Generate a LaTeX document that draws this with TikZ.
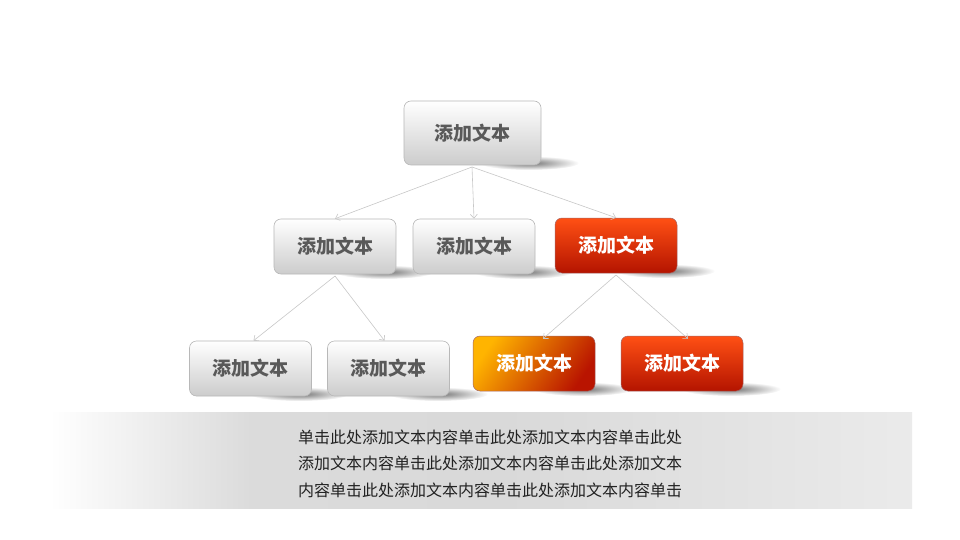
\documentclass[tikz,border=0pt]{standalone}
\usepackage{fontspec}
\setmainfont{Noto Sans CJK SC}
\newfontfamily\cjk{Noto Sans CJK SC}
\usetikzlibrary{arrows.meta,fadings,shadings}
\tikzfading[name=fuzzyedge, inner color=transparent!0, outer color=transparent!100]
\definecolor{boxtxt}{HTML}{595959}
\definecolor{linec}{HTML}{C8C8C8}
\definecolor{bodytxt}{HTML}{222222}
\begin{document}
\begin{tikzpicture}[x=1pt,y=-1pt,
  boxbase/.style={rounded corners=7pt, minimum width=122pt, minimum height=55pt, inner sep=0pt,
     font=\fontsize{19}{23}\selectfont\bfseries},
  graybox/.style={boxbase, draw=black!28, line width=0.6pt, top color=white, bottom color=black!20, text=boxtxt},
  redbox/.style={boxbase, draw=red!40!black!60, line width=0.5pt, top color={rgb,255:red,255;green,80;blue,20}, bottom color={rgb,255:red,180;green,20;blue,0}, text=white},
  orangebox/.style={boxbase, draw=red!40!black!60, line width=0.5pt, shading=axis, left color={rgb,255:red,255;green,180;blue,0}, right color={rgb,255:red,185;green,20;blue,0}, shading angle=55, text=white},
  conn/.style={draw=linec, line width=0.6pt, -{Straight Barb[length=4pt,width=7pt]}},
  bodyline/.style={font=\fontsize{16}{18}\selectfont, text=bodytxt, inner sep=0pt}
]
\useasboundingbox (0,0) rectangle (960,540);
\fill[white] (0,0) rectangle (960,540);
% bottom band
\shade[left color=white, right color=black!14] (50,412) rectangle (250,508);
\shade[left color=black!14, right color=black!15] (249.5,412) rectangle (500,508);
\shade[left color=black!15, right color=black!8] (499.5,412) rectangle (912,508);

% shadows
\newcommand{\boxshadow}[2]{%
  \fill[black,opacity=0.55,path fading=fuzzyedge] (#1-12,#2-2) ellipse [x radius=50, y radius=7];
}
\boxshadow{541}{165}
\boxshadow{396}{274}
\boxshadow{535}{274}
\boxshadow{677}{273}
\boxshadow{311}{396}
\boxshadow{450}{396}
\boxshadow{595}{391}
\boxshadow{743}{391}

% boxes
\node[graybox, minimum width=137pt, minimum height=64pt] (top) at (472.5,133) {添加文本};
\node[graybox] (m1) at (335,246.5) {添加文本};
\node[graybox] (m2) at (474,246.5) {添加文本};
\node[redbox] (m3) at (616,245.5) {添加文本};
\node[graybox] (b1) at (250.5,368.5) {添加文本};
\node[graybox] (b2) at (388.5,368.5) {添加文本};
\node[orangebox] (b3) at (534,363.5) {添加文本};
\node[redbox] (b4) at (682,363.5) {添加文本};

% connectors
\coordinate (topb) at (472,167);
\draw[conn] (topb) -- (m1.north);
\draw[conn] (topb) -- (m2.north);
\draw[conn] (topb) -- (m3.north);
\coordinate (m1b) at (335,276);
\draw[conn] (m1b) -- ([xshift=3pt]b1.north);
\draw[conn] (m1b) -- ([xshift=-4pt]b2.north);
\coordinate (m3b) at (616,275);
\draw[conn] (m3b) -- ([xshift=9pt,yshift=-3pt]b3.north);
\draw[conn] (m3b) -- ([xshift=6pt,yshift=-3pt]b4.north);

% body text
\node[bodyline] (t1) at (490,437) {单击此处添加文本内容单击此处添加文本内容单击此处};
\node[bodyline] (t2) at (490,463.5) {添加文本内容单击此处添加文本内容单击此处添加文本};
\node[bodyline] (t3) at (490,490) {内容单击此处添加文本内容单击此处添加文本内容单击};
\end{tikzpicture}
\end{document}
